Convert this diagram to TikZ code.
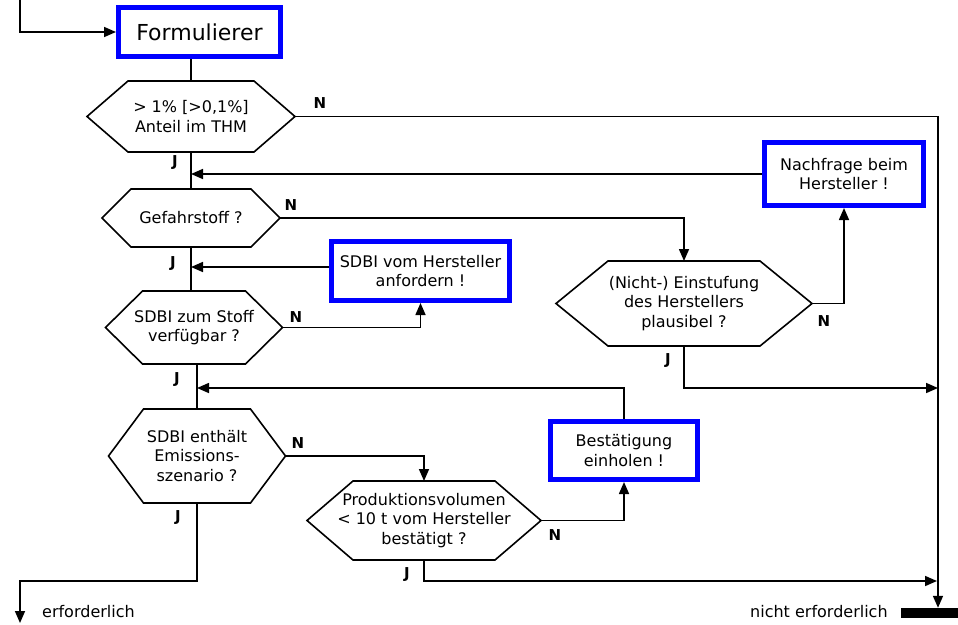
\documentclass[tikz,border=0pt]{standalone}
\usepackage{fontspec}
\setmainfont{DejaVu Sans}
\usetikzlibrary{arrows.meta}
\definecolor{procblue}{RGB}{0,0,255}

\newcommand{\flowtxt}{\fontsize{16}{19.5}\selectfont}
\newcommand{\ynfont}{\fontsize{15}{18}\selectfont\bfseries}

\tikzset{
  plain/.style={line width=1.6pt, line join=miter},
  flow/.style={plain, -{Triangle[length=12pt,width=10pt]}},
  actbox/.style={draw=procblue, line width=5pt, outer sep=2.5pt, inner sep=0pt,
                 align=center, font=\flowtxt},
  hexnode/.style={inner sep=0pt, outer sep=0pt, align=center, font=\flowtxt},
  yn/.style={font=\ynfont, inner sep=0pt},
  endtxt/.style={font=\flowtxt, inner sep=0pt, anchor=base west},
}

% hexagon decision: name, x, y, width, height, slant, text
\newcommand{\decision}[7]{%
  \node[hexnode, minimum width=#4pt, minimum height=#5pt] (#1) at (#2,#3) {#7};
  \draw[plain] (#1.west) -- ([xshift=#6pt]#1.north west)
    -- ([xshift=-#6pt]#1.north east) -- (#1.east)
    -- ([xshift=-#6pt]#1.south east) -- ([xshift=#6pt]#1.south west) -- cycle;
}

\begin{document}
\begin{tikzpicture}[x=1pt, y=-1pt]
\useasboundingbox (0,0) rectangle (958,624);

% action boxes
\node[actbox, minimum width=162pt, minimum height=49pt, font=\fontsize{22}{26}\selectfont]
  (form) at (199.5,32) {Formulierer};
\node[actbox, minimum width=159pt, minimum height=63pt] (nach) at (844,174)
  {Nachfrage beim\\Hersteller !};
\node[actbox, minimum width=178pt, minimum height=59pt] (sdbi) at (420.5,271)
  {SDBI vom Hersteller\\anfordern !};
\node[actbox, minimum width=147pt, minimum height=58pt] (best) at (624,450.5)
  {Bestätigung\\einholen !};

% decisions
\decision{h1}{191}{116.5}{208}{71}{41}{> 1\% [>0,1\%]\\Anteil im THM}
\decision{h2}{191}{218}{178}{58}{29}{Gefahrstoff ?}
\decision{h3}{194}{327.5}{177}{73}{37}{SDBI zum Stoff\\verfügbar ?}
\decision{h4}{197}{456}{177}{94}{35}{SDBI enthält\\Emissions-\\szenario ?}
\decision{h5}{424}{520.5}{234}{79}{46}{Produktionsvolumen\\< 10 t vom Hersteller\\bestätigt ?}
\decision{h6}{684}{303.5}{256}{85}{52}{(Nicht-) Einstufung\\des Herstellers\\plausibel ?}

% end marks
\node[fill=black, inner sep=0pt, minimum width=57pt, minimum height=10pt] (bar) at (929.5,613) {};
\node[endtxt] (erf) at (42,617) {erforderlich};
\node[endtxt] (nerf) at (750,617) {nicht erforderlich};

% helper points of the routing
\coordinate (entry) at (20,0);
\coordinate (railtop) at (938,116.5);
\coordinate (j6) at (938,388);
\coordinate (j5) at (937,581);
\coordinate (exitturn) at (20,581);
\coordinate (exit) at (20,623);

% connectors
\draw[flow] (entry) |- (form.west);
\draw[plain] (h1.north |- form.south) -- (h1.north);
\draw[flow] (h1.east) -- (railtop) -- (railtop |- bar.north);
\draw[plain] (h1.south) -- (h2.north);
\draw[flow] (nach.west) -- (nach.west -| h1.south);
\draw[flow] (h2.east) -| (h6.north);
\draw[flow] (h6.east) -| (nach.south);
\draw[flow] (h6.south) |- (j6);
\draw[plain] (h2.south) -- (h2.south |- h3.north);
\draw[flow] ([yshift=4pt]sdbi.west) -- ([yshift=4pt]sdbi.west -| h2.south);
\draw[flow] (h3.east) -| (sdbi.south);
\draw[plain] (h4.north |- h3.south) -- (h4.north);
\draw[flow] (best.north) |- (h4.north |- j6);
\draw[flow] (h4.east) -| (h5.north);
\draw[flow] (h5.east) -| (best.south);
\draw[flow] (h5.south) |- (j5);
\draw[flow] (h4.south) -- (h4.south |- exitturn) -- (exitturn) -- (exit);

% yes / no labels
\node[yn] (n1) at (320,103) {N};
\node[yn] (y1) at (175,163) {J};
\node[yn] (n2) at (291,205) {N};
\node[yn] (y2) at (173,264) {J};
\node[yn] (n3) at (296,317) {N};
\node[yn] (y3) at (177,380) {J};
\node[yn] (n4) at (298,443) {N};
\node[yn] (y4) at (178,518) {J};
\node[yn] (n5) at (555,535) {N};
\node[yn] (y5) at (407,575) {J};
\node[yn] (n6) at (824,321) {N};
\node[yn] (y6) at (668,361) {J};
\end{tikzpicture}
\end{document}
